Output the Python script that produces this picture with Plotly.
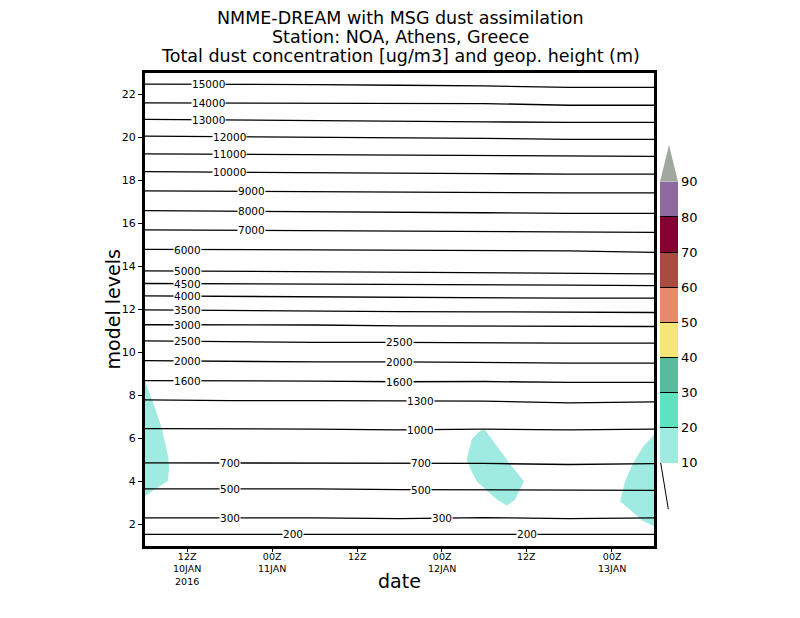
import numpy as np
import pandas as pd
import plotly.graph_objects as go

# time axis: hours after 06Z 10JAN2016
t0 = pd.Timestamp('2016-01-10 06:00')
line_hours = [0, 12, 24, 36, 48, 60, 72]

# geopotential height contours (m) and their model level at each time
heights = [15000, 14000, 13000, 12000, 11000, 10000, 9000, 8000, 7000, 6000,
           5000, 4500, 4000, 3500, 3000, 2500, 2000, 1600, 1300, 1000,
           700, 500, 300, 200]
h15000 = [22.48, 22.48, 22.46, 22.43, 22.40, 22.33, 22.33]
h14000 = [21.61, 21.61, 21.60, 21.58, 21.58, 21.50, 21.50]
h13000 = [20.84, 20.82, 20.80, 20.77, 20.73, 20.70, 20.70]
h12000 = [20.06, 20.04, 20.02, 19.98, 19.96, 19.91, 19.91]
h11000 = [19.24, 19.22, 19.20, 19.17, 19.15, 19.13, 19.12]
h10000 = [18.41, 18.38, 18.35, 18.33, 18.32, 18.30, 18.30]
h9000 = [17.52, 17.50, 17.48, 17.47, 17.42, 17.42, 17.42]
h8000 = [16.60, 16.58, 16.56, 16.55, 16.50, 16.47, 16.47]
h7000 = [15.70, 15.68, 15.66, 15.65, 15.62, 15.59, 15.59]
h6000 = [14.80, 14.78, 14.76, 14.74, 14.74, 14.73, 14.66]
h5000 = [13.80, 13.78, 13.76, 13.73, 13.73, 13.69, 13.66]
h4500 = [13.21, 13.20, 13.19, 13.18, 13.15, 13.13, 13.11]
h4000 = [12.63, 12.61, 12.59, 12.57, 12.53, 12.53, 12.53]
h3500 = [11.98, 11.95, 11.91, 11.90, 11.89, 11.86, 11.86]
h3000 = [11.29, 11.29, 11.28, 11.24, 11.24, 11.21, 11.21]
h2500 = [10.54, 10.50, 10.47, 10.47, 10.44, 10.44, 10.44]
h2000 = [9.62, 9.58, 9.56, 9.56, 9.53, 9.51, 9.51]
h1600 = [8.69, 8.69, 8.67, 8.64, 8.65, 8.61, 8.61]
h1300 = [7.80, 7.76, 7.76, 7.74, 7.74, 7.66, 7.70]
h1000 = [6.46, 6.46, 6.44, 6.40, 6.44, 6.40, 6.44]
h700 = [4.87, 4.87, 4.86, 4.85, 4.84, 4.79, 4.83]
h500 = [3.66, 3.66, 3.66, 3.62, 3.62, 3.59, 3.59]
h300 = [2.31, 2.31, 2.31, 2.27, 2.32, 2.27, 2.31]
h200 = [1.54, 1.54, 1.54, 1.54, 1.54, 1.54, 1.54]
height_lines = [h15000, h14000, h13000, h12000, h11000, h10000, h9000, h8000,
                h7000, h6000, h5000, h4500, h4000, h3500, h3000, h2500, h2000,
                h1600, h1300, h1000, h700, h500, h300, h200]
# where the contour labels sit (hours)
label_hours = [[9], [9], [9], [12], [12], [12], [15], [15], [15], [6],
               [6], [6], [6], [6], [6], [6, 36], [6, 36], [6, 36], [39], [39],
               [12, 39], [12, 39], [12, 42], [21, 54]]

# dust concentration >= 10 ug/m3 areas (hours, model level)
dust1_hours = [0, 1.17, 2.36, 3.30, 3.40, 3.21, 1.66, 0.24, 0]
dust1_level = [8.65, 7.65, 6.49, 5.10, 4.55, 4.01, 3.70, 3.39, 3.31]
dust2_hours = [48.0, 49.75, 51.87, 53.61, 52.34, 51.17, 49.75, 46.92, 45.97, 45.51, 46.22, 47.15]
dust2_level = [6.44, 5.64, 4.71, 4.01, 3.16, 2.88, 3.16, 4.01, 4.63, 5.02, 5.95, 6.29]
dust3_hours = [72, 70.49, 69.08, 67.91, 67.2, 69.08, 70.49, 72]
dust3_level = [6.18, 5.64, 4.87, 4.01, 3.08, 2.54, 2.15, 1.92]

# colour bar
cbar_levels = [10, 20, 30, 40, 50, 60, 70, 80, 90]
cbar_colors = ['#a0ebe1', '#5de3bf', '#57bc9c', '#f6e67a', '#e98b6b',
               '#a84c42', '#850030', '#8c6a9e']
over_color = '#a0a8a0'

tick_times = ['2016-01-10 12:00', '2016-01-11 00:00', '2016-01-11 12:00',
              '2016-01-12 00:00', '2016-01-12 12:00', '2016-01-13 00:00']
tick_text = ['12Z<br>10JAN<br>2016', '00Z<br>11JAN', '12Z', '00Z<br>12JAN', '12Z', '00Z<br>13JAN']


def to_time(hours):
    return t0 + pd.to_timedelta(np.array(hours, dtype=float), unit='h')


FONT = 'DejaVu Sans'
fig = go.Figure()

# dust shading
for hrs, lev in [(dust1_hours, dust1_level), (dust2_hours, dust2_level), (dust3_hours, dust3_level)]:
    fig.add_trace(go.Scatter(x=to_time(hrs), y=lev, mode='lines', fill='toself',
                             fillcolor=cbar_colors[0], line=dict(width=0),
                             hoverinfo='skip', showlegend=False))

# height contours
line_times = to_time(line_hours)
for hgt, lev, lab in zip(heights, height_lines, label_hours):
    fig.add_trace(go.Scatter(x=line_times, y=lev, mode='lines',
                             line=dict(color='black', width=1.3),
                             hoverinfo='skip', showlegend=False))
    for lh in lab:
        fig.add_annotation(x=to_time([lh])[0], y=float(np.interp(lh, line_hours, lev)),
                           text=str(hgt), showarrow=False, bgcolor='white', borderpad=0,
                           font=dict(family=FONT, size=10.5, color='black'))

# colour bar (dummy trace)
cs = []
for i, c in enumerate(cbar_colors):
    cs += [[i / len(cbar_colors), c], [(i + 1) / len(cbar_colors), c]]
fig.add_trace(go.Scatter(
    x=[None, None], y=[None, None], mode='markers', showlegend=False, hoverinfo='skip',
    marker=dict(color=[cbar_levels[0], cbar_levels[-1]], colorscale=cs,
                cmin=cbar_levels[0], cmax=cbar_levels[-1], showscale=True,
                colorbar=dict(x=1.0118, xanchor='left', y=0.4728, yanchor='middle',
                              len=0.595, lenmode='fraction', thickness=18, thicknessmode='pixels',
                              xpad=0, ypad=0, outlinewidth=0, tickvals=cbar_levels, ticks='inside',
                              ticklen=18, tickcolor='black', tickwidth=1,
                              tickfont=dict(family=FONT, size=13, color='black'))),
))

# over-range triangle and under-range stroke
fig.add_shape(type='path', xref='paper', yref='paper',
              path='M 1.0118 0.7702 L 1.0472 0.7702 L 1.0295 0.8478 Z',
              fillcolor=over_color, line=dict(width=0))
fig.add_shape(type='line', xref='paper', yref='paper', x0=1.0132, y0=0.1755,
              x1=1.0281, y1=0.078, line=dict(color='black', width=1))

# titles
titles = ['NMME-DREAM with MSG dust assimilation', 'Station: NOA, Athens, Greece',
          'Total dust concentration [ug/m3] and geop. height (m)']
for txt, yy in zip(titles, [1.1163, 1.0761, 1.036]):
    fig.add_annotation(x=0.501, y=yy, xref='paper', yref='paper', text=txt, showarrow=False,
                       xanchor='center', yanchor='middle',
                       font=dict(family=FONT, size=17.5, color='black'))
fig.add_annotation(x=-0.063, y=0.5, xref='paper', yref='paper', text='model levels',
                   textangle=-90, showarrow=False, xanchor='center', yanchor='middle',
                   font=dict(family=FONT, size=19, color='black'))
fig.add_annotation(x=0.5, y=-0.074, xref='paper', yref='paper', text='date',
                   showarrow=False, xanchor='center', yanchor='middle',
                   font=dict(family=FONT, size=19, color='black'))

# date tick labels
for tt, txt in zip(tick_times, tick_text):
    fig.add_annotation(x=tt, y=-0.0095, xref='x', yref='paper', text=txt, showarrow=False,
                       xanchor='center', yanchor='top', borderpad=0,
                       font=dict(family=FONT, size=9.5, color='black'))

fig.update_xaxes(type='date', range=[line_times[0], line_times[-1]],
                 tickvals=tick_times, showticklabels=False, ticks='outside', ticklen=3,
                 tickcolor='black', showgrid=False, zeroline=False, showline=True,
                 linecolor='black', linewidth=3, mirror=True)
fig.update_yaxes(range=[1, 23], tickvals=list(range(2, 23, 2)), ticks='outside', ticklen=4,
                 tickcolor='black', showgrid=False, zeroline=False, showline=True,
                 linecolor='black', linewidth=3, mirror=True,
                 tickfont=dict(family=FONT, size=11, color='black'))
fig.update_layout(width=800, height=618, margin=dict(l=137, r=154, t=65, b=80),
                  plot_bgcolor='white', paper_bgcolor='white', showlegend=False)

fig.write_html('out.html')
